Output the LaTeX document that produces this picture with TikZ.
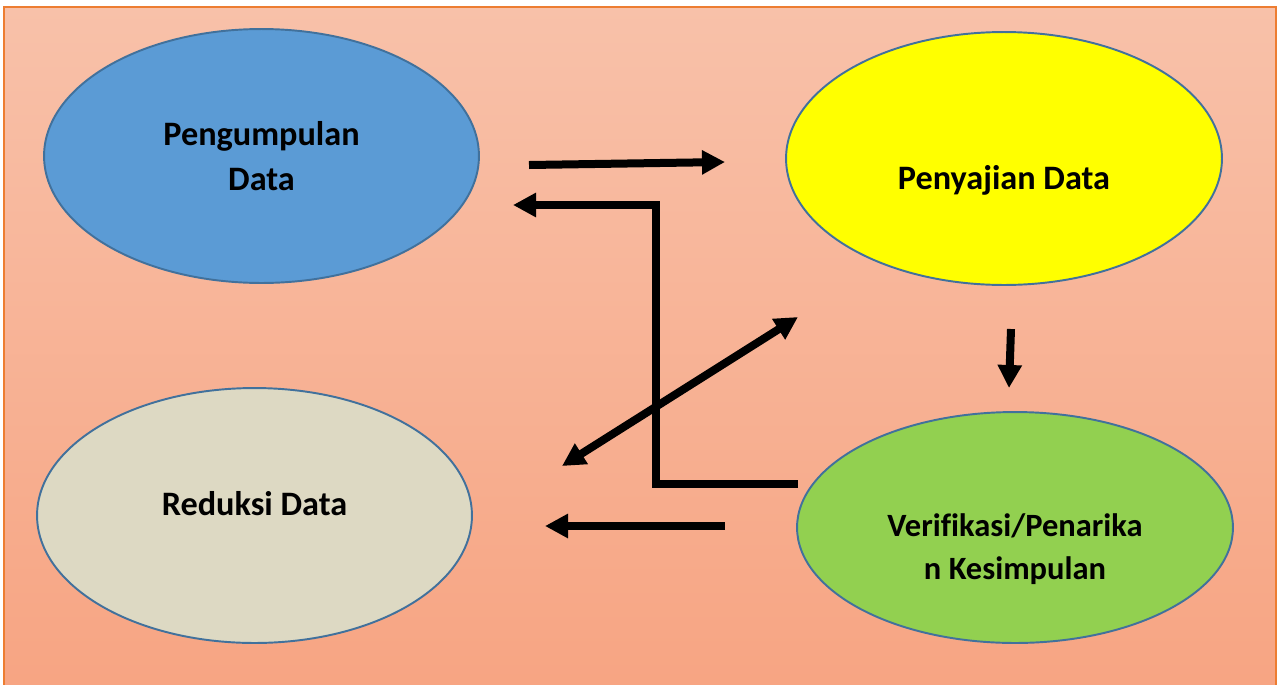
\documentclass[tikz,border=0pt]{standalone}
\usepackage{fontspec}
\setmainfont{Carlito}[Ligatures=NoCommon]
\usepackage{xcolor}
\usetikzlibrary{arrows.meta, positioning, calc, shapes.geometric}

\definecolor{bgtop}{HTML}{F8C1A9}
\definecolor{bgbot}{HTML}{F7A482}
\definecolor{frameor}{HTML}{ED7D31}
\definecolor{rim}{HTML}{41719C}
\definecolor{fillblue}{HTML}{5B9BD5}
\definecolor{fillyel}{HTML}{FFFF00}
\definecolor{fillgrey}{HTML}{DDD9C3}
\definecolor{fillgreen}{HTML}{92D050}

\begin{document}
\begin{tikzpicture}[x=0.02cm, y=-0.02cm, >=Stealth, line join=miter,
    phase/.style={ellipse, draw=rim, line width=1.1pt, inner sep=0pt},
    lbl/.style={font=\bfseries\fontsize{19.5}{26}\selectfont, align=center},
    flow/.style={line width=0.16cm, -{Triangle[length=0.46cm, width=0.46cm]}},
    twoway/.style={line width=0.16cm, {Triangle[length=0.46cm, width=0.46cm]}-{Triangle[length=0.46cm, width=0.46cm]}}]
    \useasboundingbox (0,0) rectangle (1281,684);

    % Background panel
    \shade[top color=bgtop, bottom color=bgbot] (4,7) rectangle (1276,700);
    \draw[frameor, line width=0.8pt] (4,700) -- (4,7) -- (1276,7) -- (1276,700);

    % Stages
    \node[phase, fill=fillblue, minimum width=8.70cm, minimum height=5.08cm] (kumpul) at (261.5,156) {};
    \node[phase, fill=fillyel, minimum width=8.72cm, minimum height=5.06cm] (saji) at (1004,158.5) {};
    \node[phase, fill=fillgrey, minimum width=8.70cm, minimum height=5.10cm] (reduksi) at (254.5,515.5) {};
    \node[phase, fill=fillgreen, minimum width=8.72cm, minimum height=4.62cm] (simpul) at (1015,527.5) {};

    % Stage labels
    \node[lbl] (kumpulT) at (kumpul.center) {Pengumpulan\\Data};
    \node[lbl] (sajiT) at (1004,180) {Penyajian Data};
    \node[lbl] (reduksiT) at (254.5,503.5) {Reduksi Data};
    \node[lbl, font=\bfseries\fontsize{18.5}{24.5}\selectfont] (simpulT) at (1015,549) {Verifikasi/Penarika\\n Kesimpulan};

    % Arrow end points
    \coordinate (a1s) at (529,165);
    \coordinate (a1e) at (725,162);
    \coordinate (a2s) at (798,484);
    \coordinate (a2k) at (656,484);
    \coordinate (a2j) at (656,205);
    \coordinate (a2e) at (513,205);
    \coordinate (a3s) at (562,466);
    \coordinate (a3e) at (798,317);
    \coordinate (a4s) at (1011,329);
    \coordinate (a4e) at (1009,388);
    \coordinate (a5s) at (725,526);
    \coordinate (a5e) at (545,526);

    % Arrows
    \draw[flow] (a1s) -- (a1e);
    \draw[flow] (a2s) -- (a2k) -- (a2j) -- (a2e);
    \draw[twoway] (a3s) -- (a3e);
    \draw[flow] (a4s) -- (a4e);
    \draw[flow] (a5s) -- (a5e);

\end{tikzpicture}
\end{document}
